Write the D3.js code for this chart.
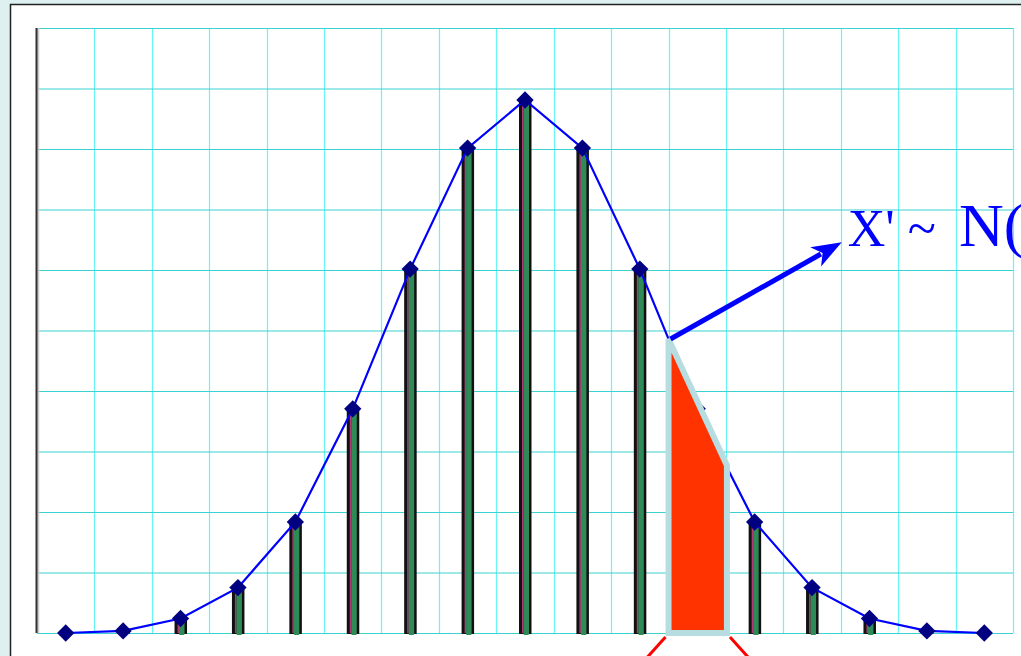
<!DOCTYPE html>
<html>
<head>
<meta charset="utf-8">
<script src="https://cdn.jsdelivr.net/npm/d3@7"></script>
<style>
  html, body { margin: 0; padding: 0; background: #dff0f0; }
  svg { display: block; }
</style>
</head>
<body>
<svg id="chart" width="1021" height="656"></svg>
<script>
// ---- data ----
const categories = [0, 1, 2, 3, 4, 5, 6, 7, 8, 9, 10, 11, 12, 13, 14, 15, 16];
const probabilities = [0, 0.0007, 0.0048, 0.0150, 0.0367, 0.0741, 0.1203, 0.1603, 0.1762,
                       0.1603, 0.1203, 0.0741, 0.0367, 0.0150, 0.0048, 0.0007, 0];
const yTicks = [0, 0.02, 0.04, 0.06, 0.08, 0.10, 0.12, 0.14, 0.16, 0.18, 0.20];
const highlightIndex = 11;
const annotationLabel = "X' ~ ";
const annotationLabel2 = "N(";
const arrowTip = { band: 14, value: 0.1292 };

// ---- layout ----
const svg = d3.select("#chart");
const plot = { left: 37, right: 1013, top: 28, bottom: 633 };

const x = d3.scaleBand().domain(categories).range([plot.left, plot.right]).padding(0);
const y = d3.scaleLinear().domain([0, 0.2]).range([plot.bottom, plot.top]);
const cx = d => x(d) + x.bandwidth() / 2;

// panel
svg.append("rect")
  .attr("x", 10.5).attr("y", 4.5).attr("width", 1200).attr("height", 800)
  .attr("fill", "#ffffff").attr("stroke", "#222").attr("stroke-width", 1.5);

// grid: vertical lines at band edges
const edges = categories.map(c => x(c)).concat([plot.right]);
svg.append("g").selectAll("line").data(edges).join("line")
  .attr("x1", d => Math.round(d) + 0.5).attr("x2", d => Math.round(d) + 0.5)
  .attr("y1", plot.top).attr("y2", plot.bottom)
  .attr("stroke", "#66f4f4").attr("stroke-width", 1.2);

// grid: horizontal lines via axis
const yAxis = d3.axisLeft(y).tickValues(yTicks).tickSize(-(plot.right - plot.left)).tickFormat("");
const gy = svg.append("g").attr("transform", `translate(${plot.left},0)`).call(yAxis);
gy.select(".domain").remove();
gy.selectAll(".tick line").attr("stroke", "#3cd2d2").attr("stroke-width", 1.2);

// left axis line
svg.append("line").attr("x1", 38.5).attr("x2", 38.5).attr("y1", plot.top).attr("y2", plot.bottom)
  .attr("stroke", "#cccccc").attr("stroke-width", 1.5);
svg.append("line").attr("x1", 36.5).attr("x2", 36.5).attr("y1", plot.top).attr("y2", plot.bottom)
  .attr("stroke", "#333").attr("stroke-width", 2);

// bars
const bars = svg.append("g");
bars.selectAll("rect.outer").data(categories).join("rect")
  .attr("class", "outer")
  .attr("x", d => cx(d) - 6).attr("width", 12.5)
  .attr("y", (d, i) => y(probabilities[i])).attr("height", (d, i) => y(0) - y(probabilities[i]) + 1)
  .attr("fill", "#111");
bars.selectAll("rect.mag").data(categories).join("rect")
  .attr("class", "mag")
  .attr("x", d => cx(d) - 3).attr("width", 1.5)
  .attr("y", (d, i) => y(probabilities[i])).attr("height", (d, i) => y(0) - y(probabilities[i]))
  .attr("fill", "#b03a78");
bars.selectAll("rect.inner").data(categories).join("rect")
  .attr("class", "inner")
  .attr("x", d => cx(d) - 1.5).attr("width", 5.5)
  .attr("y", (d, i) => y(probabilities[i])).attr("height", (d, i) => y(0) - y(probabilities[i]) + 2)
  .attr("rx", 1)
  .attr("fill", "#2e8b57");

// line
const line = d3.line().x((d, i) => cx(categories[i])).y(d => y(d));
svg.append("path").datum(probabilities)
  .attr("d", line).attr("fill", "none").attr("stroke", "#0000ff").attr("stroke-width", 2.2);

// diamonds
svg.append("g").selectAll("path").data(categories).join("path")
  .attr("d", d3.symbol(d3.symbolSquare, 150))
  .attr("transform", (d, i) => `translate(${cx(d)},${y(probabilities[i])}) rotate(45)`)
  .attr("fill", "#000080");

// highlighted area (trapezoid over one band)
const hx0 = x(categories[highlightIndex]);
const hx1 = hx0 + x.bandwidth();
const vLeft = (probabilities[highlightIndex - 1] + probabilities[highlightIndex]) / 2;
const vRight = (probabilities[highlightIndex] + probabilities[highlightIndex + 1]) / 2;
const poly = [[hx0, y(vLeft)], [hx0, y(0)], [hx1 + 1, y(0)], [hx1 + 1, y(vRight)]];
svg.append("polygon")
  .attr("points", poly.map(p => p.join(",")).join(" "))
  .attr("fill", "#ff3300").attr("stroke", "#b8dde0").attr("stroke-width", 6)
  .attr("stroke-linejoin", "miter");

// red leader lines below
svg.append("line").attr("x1", hx0 - 3).attr("y1", y(0) + 4).attr("x2", hx0 - 30).attr("y2", y(0) + 34)
  .attr("stroke", "#ff0000").attr("stroke-width", 3);
svg.append("line").attr("x1", hx1 + 4).attr("y1", y(0) + 4).attr("x2", hx1 + 31).attr("y2", y(0) + 34)
  .attr("stroke", "#ff0000").attr("stroke-width", 3);

// arrow
const a0 = [hx0 + 2, y(vLeft)];
const a1 = [x(categories[arrowTip.band]) + 1, y(arrowTip.value)];
const dx = a1[0] - a0[0], dy = a1[1] - a0[1], L = Math.hypot(dx, dy);
const ux = dx / L, uy = dy / L, nx = -uy, ny = ux;
const headLen = 30, headW = 11;
const bx = a1[0] - ux * headLen, by = a1[1] - uy * headLen;
svg.append("line").attr("x1", a0[0]).attr("y1", a0[1]).attr("x2", bx + ux * 6).attr("y2", by + uy * 6)
  .attr("stroke", "#0000ff").attr("stroke-width", 5);
svg.append("polygon")
  .attr("points", [[a1[0], a1[1]], [bx + nx * headW, by + ny * headW], [bx + ux * 8, by + uy * 8], [bx - nx * headW, by - ny * headW]].map(p => p.join(",")).join(" "))
  .attr("fill", "#0000ff");

// label
const label = svg.append("text").attr("x", a1[0] + 6).attr("y", 246)
  .attr("font-family", "Liberation Serif, Times New Roman, serif")
  .attr("fill", "#0000ff").attr("xml:space", "preserve").style("white-space", "pre");
label.append("tspan").attr("font-size", 52).text(annotationLabel);
label.append("tspan").attr("x", 959).attr("font-size", 62).text(annotationLabel2);
</script>
</body>
</html>
